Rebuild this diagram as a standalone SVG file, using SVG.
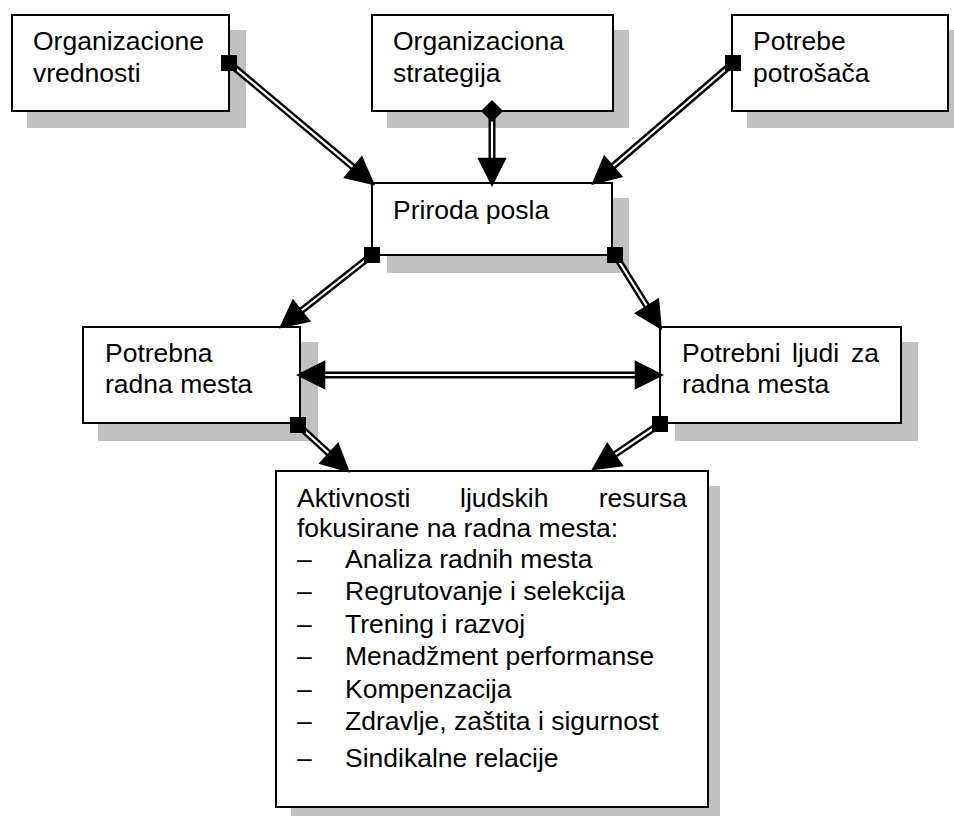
<svg xmlns="http://www.w3.org/2000/svg" width="954" height="816" viewBox="0 0 954 816">
<defs>
<style>
.box{fill:#fff;stroke:#000;stroke-width:2}
.sh{fill:#c0c0c0}
.t{font-family:"Liberation Sans",Arial,sans-serif;font-size:26.5px;fill:#000}
.lb{fill:none;stroke:#000;stroke-width:7}
.lw{fill:none;stroke:#fff;stroke-width:2.2}
</style>
<marker id="arr" markerUnits="userSpaceOnUse" markerWidth="40" markerHeight="40" refX="10" refY="0" viewBox="-2 -14 30 28" orient="auto-start-reverse" overflow="visible">
<path d="M0,-11 L22,0 L0,11 Z" fill="#000"/>
</marker>
<marker id="sq" markerUnits="userSpaceOnUse" markerWidth="20" markerHeight="20" refX="0" refY="0" viewBox="-10 -10 20 20" orient="0" overflow="visible">
<rect x="-8" y="-8" width="16" height="16" fill="#000"/>
</marker>
<marker id="dia" markerUnits="userSpaceOnUse" markerWidth="26" markerHeight="26" refX="0" refY="0" viewBox="-13 -13 26 26" orient="0" overflow="visible">
<path d="M0,-11 L11,0 L0,11 L-11,0 Z" fill="#000"/>
</marker>
</defs>
<rect width="954" height="816" fill="#fff"/>

<g id="n1">
<rect class="sh" x="27" y="30" width="219" height="98"/>
<rect class="box" x="12" y="15" width="217" height="96"/>
<text class="t" x="33" y="50">Organizacione</text>
<text class="t" x="33" y="82">vrednosti</text>
</g>
<g id="n2">
<rect class="sh" x="387" y="30" width="242" height="98"/>
<rect class="box" x="372" y="15" width="241" height="96"/>
<text class="t" x="393" y="50">Organizaciona</text>
<text class="t" x="393" y="82">strategija</text>
</g>
<g id="n3">
<rect class="sh" x="747" y="30" width="207" height="98"/>
<rect class="box" x="732" y="15" width="216" height="96"/>
<text class="t" x="753" y="50">Potrebe</text>
<text class="t" x="753" y="82">potrošača</text>
</g>
<g id="n4">
<rect class="sh" x="387" y="198" width="242" height="75"/>
<rect class="box" x="372" y="183" width="240" height="72"/>
<text class="t" x="393" y="219">Priroda posla</text>
</g>
<g id="n5">
<rect class="sh" x="98" y="342" width="220" height="99"/>
<rect class="box" x="83" y="327" width="217" height="96"/>
<text class="t" x="105" y="362">Potrebna</text>
<text class="t" x="105" y="393">radna mesta</text>
</g>
<g id="n6">
<rect class="sh" x="675" y="342" width="243" height="99"/>
<rect class="box" x="660" y="327" width="241" height="96"/>
<text class="t" x="682" y="362">Potrebni</text>
<text class="t" x="792" y="362">ljudi</text>
<text class="t" x="879" y="362" text-anchor="end">za</text>
<text class="t" x="682" y="393">radna mesta</text>
</g>
<g id="n7">
<rect class="sh" x="291" y="486" width="429" height="340"/>
<rect class="box" x="276" y="471" width="432" height="336"/>
<text class="t" x="297" y="507">Aktivnosti</text>
<text class="t" x="460" y="507">ljudskih</text>
<text class="t" x="687" y="507" text-anchor="end">resursa</text>
<text class="t" x="297" y="537">fokusirane na radna mesta:</text>
<text class="t" x="297" y="568">–</text><text class="t" x="345" y="568">Analiza radnih mesta</text>
<text class="t" x="297" y="600">–</text><text class="t" x="345" y="600">Regrutovanje i selekcija</text>
<text class="t" x="297" y="633">–</text><text class="t" x="345" y="633">Trening i razvoj</text>
<text class="t" x="297" y="665">–</text><text class="t" x="345" y="665">Menadžment performanse</text>
<text class="t" x="297" y="698">–</text><text class="t" x="345" y="698">Kompenzacija</text>
<text class="t" x="297" y="730">–</text><text class="t" x="345" y="730">Zdravlje, zaštita i sigurnost</text>
<text class="t" x="297" y="767">–</text><text class="t" x="345" y="767">Sindikalne relacije</text>
</g>

<g id="connectors">
<g id="c1"><path class="lb" d="M229,63 L362.8,175.3"/><path class="lw" d="M229,63 L362.8,175.3" marker-start="url(#sq)" marker-end="url(#arr)"/></g>
<g id="c2"><path class="lb" d="M492,111 L492,171"/><path class="lw" d="M492,111 L492,171" marker-start="url(#dia)" marker-end="url(#arr)"/></g>
<g id="c3"><path class="lb" d="M733,63 L603.5,174.5"/><path class="lw" d="M733,63 L603.5,174.5" marker-start="url(#sq)" marker-end="url(#arr)"/></g>
<g id="c4"><path class="lb" d="M372,255 L291.5,318.5"/><path class="lw" d="M372,255 L291.5,318.5" marker-start="url(#sq)" marker-end="url(#arr)"/></g>
<g id="c5"><path class="lb" d="M615,255 L653.6,316.8"/><path class="lw" d="M615,255 L653.6,316.8" marker-start="url(#sq)" marker-end="url(#arr)"/></g>
<g id="c6"><path class="lb" d="M312,375 L648,375"/><path class="lw" d="M312,375 L648,375" marker-start="url(#arr)" marker-end="url(#arr)"/></g>
<g id="c7"><path class="lb" d="M298,425 L338.2,461.9"/><path class="lw" d="M298,425 L338.2,461.9" marker-start="url(#sq)" marker-end="url(#arr)"/></g>
<g id="c8"><path class="lb" d="M660,424 L604.4,461.6"/><path class="lw" d="M660,424 L604.4,461.6" marker-start="url(#sq)" marker-end="url(#arr)"/></g>
</g>
</svg>
